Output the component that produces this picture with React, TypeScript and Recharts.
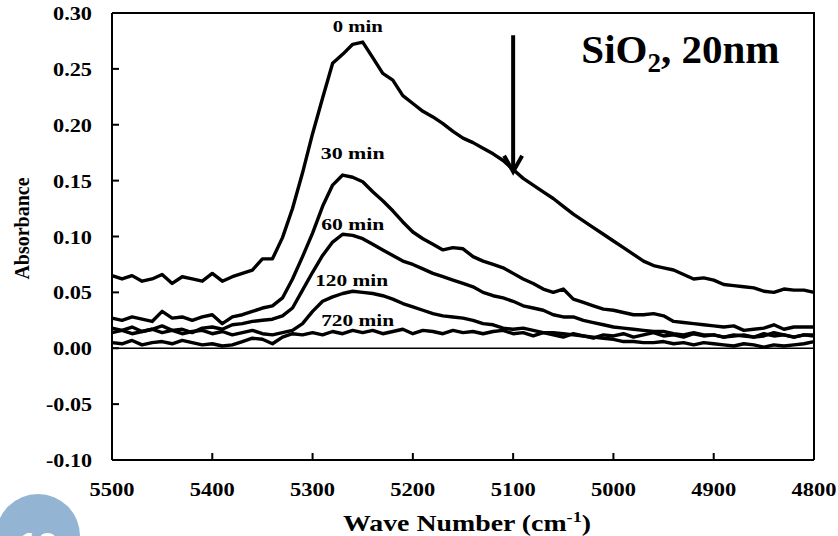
import React from 'react';
import { LineChart, Line, XAxis, YAxis, ReferenceLine, ReferenceDot, Label } from 'recharts';

// Wave numbers (cm^-1), sampled every 10 cm^-1 from 5500 down to 4800
const waveNumbers = [
  5500, 5490, 5480, 5470, 5460, 5450, 5440, 5430, 5420, 5410,
  5400, 5390, 5380, 5370, 5360, 5350, 5340, 5330, 5320, 5310,
  5300, 5290, 5280, 5270, 5260, 5250, 5240, 5230, 5220, 5210,
  5200, 5190, 5180, 5170, 5160, 5150, 5140, 5130, 5120, 5110,
  5100, 5090, 5080, 5070, 5060, 5050, 5040, 5030, 5020, 5010,
  5000, 4990, 4980, 4970, 4960, 4950, 4940, 4930, 4920, 4910,
  4900, 4890, 4880, 4870, 4860, 4850, 4840, 4830, 4820, 4810,
  4800,
];

const abs0min = [
  0.065, 0.062, 0.065, 0.060, 0.062, 0.066, 0.058, 0.064, 0.062, 0.060,
  0.067, 0.060, 0.064, 0.067, 0.070, 0.080, 0.080, 0.099, 0.125, 0.157,
  0.192, 0.224, 0.255, 0.263, 0.272, 0.274, 0.260, 0.246, 0.240, 0.226,
  0.219, 0.212, 0.207, 0.201, 0.194, 0.188, 0.184, 0.179, 0.174, 0.168,
  0.160, 0.152, 0.146, 0.140, 0.134, 0.127, 0.120, 0.114, 0.108, 0.102,
  0.096, 0.090, 0.084, 0.078, 0.074, 0.072, 0.070, 0.066, 0.062, 0.063,
  0.061, 0.057, 0.056, 0.055, 0.054, 0.051, 0.050, 0.053, 0.052, 0.052,
  0.050,
];

const abs30min = [
  0.027, 0.025, 0.028, 0.026, 0.024, 0.033, 0.027, 0.028, 0.025, 0.028,
  0.030, 0.022, 0.028, 0.030, 0.033, 0.036, 0.038, 0.045, 0.062, 0.082,
  0.103, 0.127, 0.146, 0.155, 0.153, 0.149, 0.140, 0.132, 0.123, 0.113,
  0.104, 0.098, 0.093, 0.088, 0.090, 0.089, 0.082, 0.078, 0.075, 0.072,
  0.067, 0.062, 0.058, 0.053, 0.050, 0.053, 0.044, 0.041, 0.038, 0.035,
  0.034, 0.032, 0.030, 0.030, 0.031, 0.029, 0.024, 0.023, 0.022, 0.021,
  0.020, 0.019, 0.020, 0.016, 0.017, 0.018, 0.021, 0.017, 0.019, 0.019,
  0.019,
];

const abs60min = [
  0.018, 0.016, 0.019, 0.015, 0.017, 0.020, 0.016, 0.017, 0.014, 0.018,
  0.019, 0.017, 0.021, 0.022, 0.024, 0.025, 0.026, 0.029, 0.036, 0.052,
  0.068, 0.083, 0.095, 0.102, 0.101, 0.098, 0.093, 0.088, 0.083, 0.078,
  0.075, 0.071, 0.067, 0.064, 0.061, 0.058, 0.055, 0.050, 0.047, 0.045,
  0.042, 0.038, 0.036, 0.034, 0.030, 0.028, 0.028, 0.025, 0.023, 0.021,
  0.019, 0.018, 0.017, 0.016, 0.015, 0.015, 0.013, 0.012, 0.014, 0.012,
  0.012, 0.010, 0.011, 0.012, 0.010, 0.011, 0.014, 0.012, 0.010, 0.012,
  0.012,
];

const abs120min = [
  0.014, 0.016, 0.013, 0.015, 0.017, 0.014, 0.016, 0.013, 0.015, 0.016,
  0.013, 0.015, 0.012, 0.014, 0.016, 0.013, 0.012, 0.014, 0.016, 0.022,
  0.033, 0.042, 0.046, 0.049, 0.051, 0.050, 0.049, 0.047, 0.044, 0.040,
  0.037, 0.034, 0.031, 0.029, 0.028, 0.027, 0.025, 0.022, 0.021, 0.018,
  0.017, 0.018, 0.016, 0.014, 0.014, 0.013, 0.012, 0.011, 0.010, 0.009,
  0.008, 0.006, 0.006, 0.005, 0.005, 0.006, 0.004, 0.005, 0.003, 0.005,
  0.004, 0.003, 0.002, 0.004, 0.003, 0.001, 0.003, 0.002, 0.003, 0.004,
  0.006,
];

const abs720min = [
  0.005, 0.004, 0.007, 0.003, 0.005, 0.006, 0.004, 0.007, 0.005, 0.003,
  0.004, 0.002, 0.003, 0.006, 0.009, 0.008, 0.004, 0.010, 0.013, 0.012,
  0.014, 0.012, 0.015, 0.013, 0.016, 0.014, 0.016, 0.013, 0.015, 0.017,
  0.013, 0.016, 0.015, 0.013, 0.016, 0.014, 0.015, 0.013, 0.015, 0.016,
  0.013, 0.014, 0.011, 0.014, 0.012, 0.010, 0.013, 0.011, 0.009, 0.012,
  0.011, 0.013, 0.010, 0.012, 0.014, 0.011, 0.012, 0.010, 0.013, 0.011,
  0.012, 0.010, 0.012, 0.011, 0.010, 0.013, 0.011, 0.012, 0.010, 0.012,
  0.011,
];

const xTicks = [5500, 5400, 5300, 5200, 5100, 5000, 4900, 4800];
const yTicks = [-0.1, -0.05, 0, 0.05, 0.1, 0.15, 0.2, 0.25, 0.3];

// Curve labels: text, wave number and absorbance of the label centre
const curveLabels = [
  { text: '0 min', wn: 5255, y: 0.288, len: 50 },
  { text: '30 min', wn: 5260, y: 0.175, len: 64 },
  { text: '60 min', wn: 5260, y: 0.111, len: 63 },
  { text: '120 min', wn: 5261, y: 0.061, len: 73 },
  { text: '720 min', wn: 5255, y: 0.0255, len: 73 },
];

const rows = waveNumbers.map((wn, i) => ({
  wn,
  m0: abs0min[i],
  m30: abs30min[i],
  m60: abs60min[i],
  m120: abs120min[i],
  m720: abs720min[i],
}));

const FONT = '"Liberation Serif", "Times New Roman", serif';
const PLOT_TOP = 13;

const XTick = (props: any) => {
  const { x, y, payload } = props;
  return (
    <g>
      <line x1={x} y1={y} x2={x} y2={y - 7} stroke="#000" strokeWidth={2} />
      <text
        x={x}
        y={y + 36}
        textAnchor="middle"
        fontFamily={FONT}
        fontWeight="bold"
        fontSize={18}
        fill="#000"
        textLength={45}
        lengthAdjust="spacingAndGlyphs"
      >
        {payload.value}
      </text>
    </g>
  );
};

const YTick = (props: any) => {
  const { x, y, payload } = props;
  const v = payload.value as number;
  const label = v.toFixed(2);
  const neg = v < 0;
  return (
    <g>
      <line x1={x} y1={y} x2={x + 7} y2={y} stroke="#000" strokeWidth={2} />
      <text
        x={x - 20}
        y={y + 7}
        textAnchor="end"
        fontFamily={FONT}
        fontWeight="bold"
        fontSize={18}
        fill="#000"
        textLength={neg ? 46 : 39}
        lengthAdjust="spacingAndGlyphs"
      >
        {label}
      </text>
    </g>
  );
};

const ArrowShape = (props: any) => {
  const { x1, y1, y2 } = props;
  const top = Math.min(y1, y2);
  const tip = Math.max(y1, y2);
  return (
    <g>
      <line x1={x1} y1={top} x2={x1} y2={tip} stroke="#000" strokeWidth={4} />
      <polyline
        points={`${x1 - 9},${tip - 16} ${x1},${tip} ${x1 + 9},${tip - 16}`}
        fill="none"
        stroke="#000"
        strokeWidth={4}
        strokeLinejoin="miter"
      />
    </g>
  );
};

const curveLabel = (text: string, len: number) => (props: any) => {
  const vb = props.viewBox || {};
  const cx = vb.x + (vb.width || 0) / 2;
  const cy = vb.y + (vb.height || 0) / 2;
  return (
    <text
      x={cx}
      y={cy + 6}
      textAnchor="middle"
      fontFamily={FONT}
      fontWeight="bold"
      fontSize={17}
      fill="#000"
      textLength={len}
      lengthAdjust="spacingAndGlyphs"
    >
      {text}
    </text>
  );
};

const sampleLabel = (props: any) => {
  const vb = props.viewBox || {};
  return (
    <text x={vb.x} y={vb.y} fontFamily={FONT} fontWeight="bold" fontSize={41} fill="#000">
      SiO
      <tspan fontSize={27} dy={9}>2</tspan>
      <tspan dy={-9}>, 20nm</tspan>
    </text>
  );
};

// X-axis title, plus the top and right edges of the plot frame,
// placed from the x-axis band that Recharts hands to the label
const XAxisTitleAndFrame = (p: any) => {
  const vb = p.viewBox;
  const left = vb.x;
  const right = vb.x + vb.width;
  const bottom = vb.y;
  return (
    <g>
      <polyline
        points={`${left},${PLOT_TOP} ${right},${PLOT_TOP} ${right},${bottom}`}
        fill="none"
        stroke="#000"
        strokeWidth={2}
      />
      <text
        x={left + vb.width / 2 + 4}
        y={bottom + 71}
        textAnchor="middle"
        fontFamily={FONT}
        fontWeight="bold"
        fontSize={23}
        fill="#000"
        textLength={248}
        lengthAdjust="spacingAndGlyphs"
      >
        Wave Number (cm
        <tspan fontSize={15} dy={-9}>-1</tspan>
        <tspan dy={9}>)</tspan>
      </text>
    </g>
  );
};

const lineStyle = {
  type: 'linear' as const,
  stroke: '#000',
  strokeWidth: 3.4,
  dot: false,
  strokeLinejoin: 'round' as const,
  isAnimationActive: false,
};

export default function App() {
  return (
    <div
      style={{
        position: 'absolute',
        left: 0,
        top: 0,
        width: 838,
        height: 536,
        overflow: 'hidden',
        background: '#fff',
      }}
    >
      <LineChart
        width={838}
        height={536}
        data={rows}
        margin={{ top: PLOT_TOP, right: 24, bottom: 0, left: 12 }}
      >
        <XAxis
          dataKey="wn"
          type="number"
          domain={[4800, 5500]}
          reversed
          ticks={xTicks}
          interval={0}
          height={76}
          tickSize={0}
          tickMargin={0}
          tickLine={false}
          axisLine={{ stroke: '#000', strokeWidth: 2 }}
          tick={<XTick />}
        >
          <Label content={XAxisTitleAndFrame} />
        </XAxis>
        <YAxis
          type="number"
          domain={[-0.1, 0.3]}
          ticks={yTicks}
          interval={0}
          width={100}
          tickSize={0}
          tickMargin={0}
          tickLine={false}
          axisLine={{ stroke: '#000', strokeWidth: 2 }}
          tick={<YTick />}
        >
          <Label
            content={(p: any) => {
              const vb = p.viewBox;
              const cx = 22;
              const cy = vb.y + vb.height / 2 - 8;
              return (
                <text
                  x={cx}
                  y={cy}
                  transform={`rotate(-90 ${cx} ${cy})`}
                  textAnchor="middle"
                  dominantBaseline="central"
                  fontFamily={FONT}
                  fontWeight="bold"
                  fontSize={20}
                  fill="#000"
                >
                  Absorbance
                </text>
              );
            }}
          />
        </YAxis>

        {/* zero baseline */}
        <ReferenceLine y={0} stroke="#000" strokeWidth={1.6} />

        <Line dataKey="m720" {...lineStyle} />
        <Line dataKey="m120" {...lineStyle} />
        <Line dataKey="m60" {...lineStyle} />
        <Line dataKey="m30" {...lineStyle} />
        <Line dataKey="m0" {...lineStyle} />

        {/* arrow pointing at the 0 min spectrum at 5100 cm^-1 */}
        <ReferenceLine
          segment={[
            { x: 5100, y: 0.28 },
            { x: 5100, y: 0.158 },
          ]}
          stroke="#000"
          ifOverflow="visible"
          shape={(p: any) => <ArrowShape {...p} />}
        />

        {curveLabels.map((c) => (
          <ReferenceDot
            key={c.text}
            x={c.wn}
            y={c.y}
            r={0}
            fill="none"
            stroke="none"
            ifOverflow="visible"
            label={curveLabel(c.text, c.len)}
          />
        ))}

        <ReferenceDot x={5032} y={0.255} r={0} fill="none" stroke="none" ifOverflow="visible" label={sampleLabel} />
      </LineChart>

      {/* slide number badge in the corner */}
      <div
        style={{
          position: 'absolute',
          left: -4,
          top: 494,
          width: 84,
          height: 84,
          borderRadius: '50%',
          background: '#93b4d2',
          color: '#fff',
          fontFamily: '"Liberation Sans", Arial, sans-serif',
          fontWeight: 'bold',
          fontSize: 34,
          textAlign: 'center',
          lineHeight: '84px',
        }}
      >
        <span style={{ position: 'relative', top: 8 }}>12</span>
      </div>
    </div>
  );
}
